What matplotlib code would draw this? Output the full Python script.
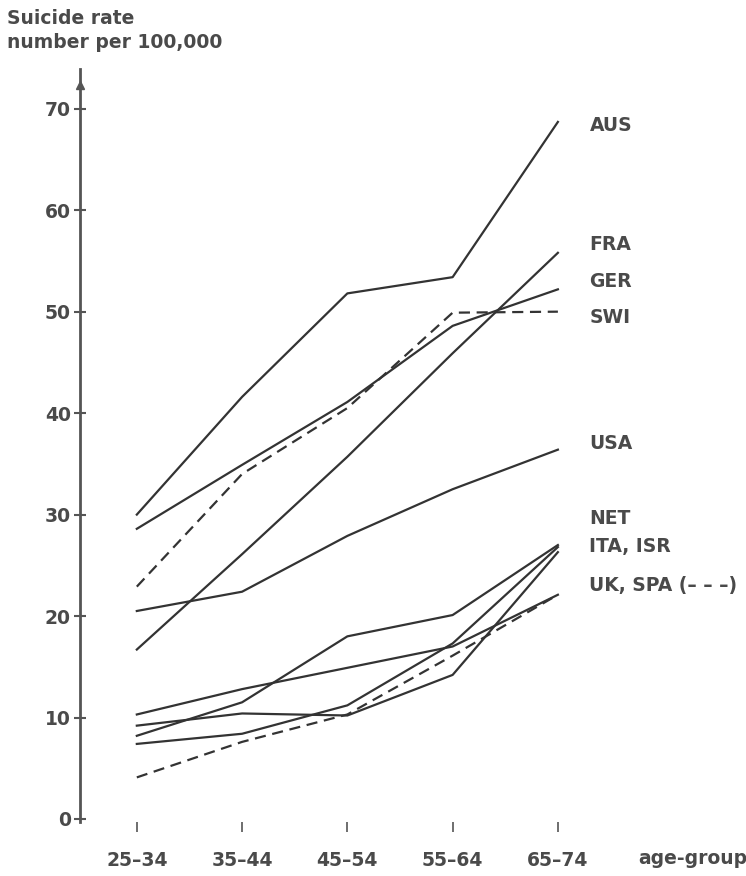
import matplotlib
matplotlib.use("Agg")
import matplotlib.pyplot as plt

plt.rcParams['font.family'] = ['DejaVu Sans']
plt.rcParams['font.weight'] = 'bold'

ages = ["25–34", "35–44", "45–54", "55–64", "65–74"]

aus = [30.0, 41.6, 51.8, 53.4, 68.7]
fra = [16.7, 26.1, 35.7, 45.9, 55.8]
ger = [28.6, 34.9, 41.1, 48.6, 52.2]
swi = [22.9, 34.0, 40.5, 49.9, 50.0]
usa = [20.5, 22.4, 27.9, 32.5, 36.4]
net = [8.2, 11.5, 18.0, 20.1, 27.0]
ita = [9.2, 10.4, 10.2, 14.2, 26.3]
isr = [7.4, 8.4, 11.2, 17.3, 26.8]
uk = [10.3, 12.8, 14.9, 17.0, 22.1]
spa = [4.1, 7.6, 10.3, 16.1, 22.1]

solid = [aus, fra, ger, usa, net, ita, isr, uk]
dashed = [swi, spa]

labels = ["AUS", "FRA", "GER", "SWI", "USA", "NET", "ITA, ISR", "UK, SPA (– – –)"]
label_y = [68.3, 56.6, 53.0, 49.4, 37.0, 29.6, 26.9, 23.0]

ink = "#333333"
txt = "#4a4a4a"

fig = plt.figure(figsize=(7.46, 8.76), dpi=100)
ax = fig.add_axes([0.1072, 0.0616, 0.7239, 0.8664])

xs = range(len(ages))
for s in solid:
    ax.plot(xs, s, color=ink, lw=1.6)
for s in dashed:
    ax.plot(xs, s, color=ink, lw=1.6, dashes=(5, 3))

ax.set_xlim(-0.54, 4.59)
ax.set_ylim(-0.3, 74.5)

for sp in ['top', 'right', 'bottom']:
    ax.spines[sp].set_visible(False)
ax.spines['left'].set_color('#555555')
ax.spines['left'].set_linewidth(2)
ax.spines['left'].set_bounds(-0.3, 73.9)
ax.plot([-0.54], [72.3], marker='^', ms=6, color='#555555', clip_on=False)

ax.set_yticks(range(0, 80, 10))
ax.tick_params(axis='y', direction='inout', length=9, width=1.5, colors='#555555',
               labelsize=13.5, labelcolor=txt, pad=2)
ax.set_xticks(list(xs))
ax.set_xticklabels(ages)
ax.tick_params(axis='x', direction='out', length=7, width=1.2, colors='#555555',
               labelsize=13.5, labelcolor=txt, pad=14)

for lab, y in zip(labels, label_y):
    ax.text(4.3, y, lab, fontsize=13.5, color=txt, va='center', ha='left', clip_on=False)

fig.text(0.856, 0.0205, "age-group", fontsize=13.5, color=txt, ha='left', va='center')
fig.text(0.009, 0.979, "Suicide rate", fontsize=13.5, color=txt, ha='left', va='center')
fig.text(0.009, 0.952, "number per 100,000", fontsize=13.5, color=txt, ha='left', va='center')

fig.savefig("out.png", dpi=100)
